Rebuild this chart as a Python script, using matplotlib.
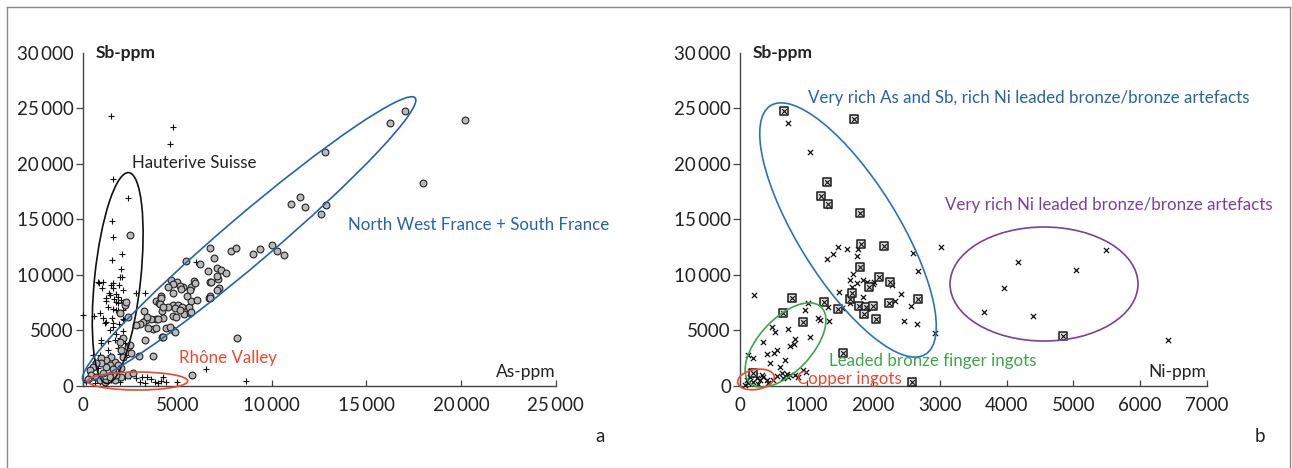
import matplotlib
matplotlib.use("Agg")
import matplotlib.pyplot as plt
from matplotlib.patches import Ellipse
from matplotlib.transforms import Affine2D
from matplotlib.lines import Line2D
from matplotlib.ticker import FuncFormatter

plt.rcParams['font.family'] = ['Lato', 'DejaVu Sans']

# ---------------- data: panel a (As vs Sb) ----------------
a_circle_x = [17030, 16240, 20210, 12800, 18000, 11480, 11760, 12880, 12580, 10990,
              6720, 7830, 8100, 9030, 9380, 10000, 10280, 10620, 6950, 5470, 6220, 6610,
              7090, 7300, 7560, 7160, 7100, 5890, 6750, 7210, 4660, 4990, 4780, 4510, 5290,
              5730, 6670, 6750, 8160, 4200, 5770, 2520,
              5920, 5130, 4760, 4130, 3880, 4050, 4760, 4510, 4200, 5040, 5270, 5390, 5600,
              5750, 6060, 5360, 5660, 4780, 4250, 3860, 3630, 3370, 3190, 3010, 2840, 3230,
              4780, 4870, 4390, 3720, 3450, 3280, 2980, 3720, 5520, 4160, 4070, 4250, 4870,
              5130, 4940, 5750, 5200, 5660, 6800, 6720, 7100, 4250, 4000, 3400, 3900, 4600,
              2400, 2490, 2580, 2130, 1960, 2050, 2130, 1690, 1520, 1250, 990, 1430, 1870,
              2050, 1600, 1250, 990, 720, 545, 370, 460, 720, 1070, 1430, 1690, 2050, 1780,
              2220, 1960, 2400, 2310, 300, 900, 1200, 2400, 2650]
a_circle_y = [24750, 23670, 23940, 21050, 18260, 17000, 16100, 16280, 15480, 16400,
              12400, 12150, 12430, 11900, 12350, 12680, 12150, 11740, 11500, 11200, 10990, 10330,
              10600, 10450, 10150, 9620, 9860, 9450, 9330, 8800, 9520, 9340, 9190, 8920, 8890,
              8860, 7920, 8070, 4330, 4390, 960, 13550,
              9230, 8980, 8350, 8110, 7660, 7450, 7270, 7120, 6720, 7240, 7120, 6670, 7120,
              7640, 7720, 6490, 6550, 6250, 6130, 6040, 5980, 5950, 5740, 5590, 5500, 6730,
              5020, 4870, 5170, 5110, 5230, 4120, 2680, 2680, 8080, 7870, 7360, 7060, 6970,
              6820, 6220, 6670, 8680, 8620, 9370, 7870, 8620, 4410, 5980, 6220, 5170, 5320,
              3510, 3670, 2920, 4270, 3960, 3220, 2560, 2160, 2610, 2320, 2470, 1860, 1860,
              1570, 1480, 1710, 2020, 2020, 1710, 1410, 960, 810, 1120, 810, 510, 810, 960,
              7270, 6550, 6220, 7570, 600, 500, 300, 950, 1100]

a_plus_x = [1520, 4780, 4600, 1590, 2380, 1570, 1600,
            2080, 1550, 2050, 2080, 846, 1070, 1520, 1900, 2130, 1750, 1430, 1250, 1660,
            1870, 2130, 1340, 1600, 1890, 2220, 2800, 3280, 20, 600, 900, 1070, 1220, 1600,
            1920, 2170, 1430, 1780, 1960, 990, 1340, 1690, 1340, 2220, 2400, 1960, 1430, 900,
            635, 810, 370, 105, 2310,
            1990, 810, 1040, 1600, 1600, 1390, 1250, 1870, 2050, 1780, 1750, 2130, 1160,
            1550, 2130, 1600, 2130, 990, 1870, 900, 545, 2220, 195, 635, 900, 1250, 1520,
            1690, 1960, 2220, 2490,
            2840, 3160, 3400, 3010, 3280, 3630, 3810, 3980, 4160, 4250, 4430, 4960, 6540,
            8620, 5980]
a_plus_y = [24320, 23330, 21800, 18600, 16900, 14880, 13440,
            11840, 11320, 10510, 9770, 9280, 9310, 9070, 9070, 8620, 8260, 8170, 7630, 7780,
            7480, 7570, 7120, 6880, 6820, 7120, 8320, 8320, 6370, 6280, 6520, 6070, 5770, 5680,
            5560, 5920, 5020, 4630, 4270, 4120, 4050, 4120, 3220, 3820, 3370, 2830, 2770, 2770,
            2160, 1570, 1120, 510, 2610,
            9820, 9370, 8770, 9220, 8770, 8320, 7870, 8020, 7720, 7570, 6820, 6820, 5620,
            6070, 5980, 5260, 4960, 3820, 3370, 2470, 2770, 2770, 360, 200, 360, 220, 510,
            810, 360, 810, 870,
            670, 810, 760, 360, 270, 580, 360, 270, 450, 810, 360, 360, 1480,
            450, 11110]

# ---------------- data: panel b (Ni vs Sb) ----------------
b_cross_x = [715, 1050, 1340, 1475, 1610, 3010, 1400, 1310, 1750, 2590, 1765,
             2675, 1700, 1650, 1750, 1850, 1900, 2010, 2275, 1675, 1490, 1850, 1650, 1525,
             1325, 2325, 2410, 2210, 2565, 2460, 2660, 2925, 1025, 975, 1175, 1340, 1200,
             1050, 2000, 1665,
             215, 485, 525, 725, 825, 750, 810, 350, 550, 510, 400, 125, 200, 450, 675, 950,
             600, 625, 700, 725, 750, 825, 550, 500, 650, 875, 990,
             100, 150, 200, 250, 300, 350, 400, 425, 125, 275, 325, 225, 75,
             5485, 4170, 5040, 3955, 3665, 4390, 6420]
b_cross_y = [23690, 21080, 16220, 12520, 12320, 12520, 11860, 11410, 11710, 11980, 12320,
             10330, 10060, 9520, 9280, 9520, 9370, 9370, 9070, 8920, 8470, 7960, 7420, 6970,
             7060, 7630, 8260, 7480, 7210, 5860, 5530, 4720, 7420, 6820, 6070, 5860, 5920,
             4410, 9140, 8170,
             8170, 5320, 4870, 5080, 4180, 3580, 3730, 3910, 3220, 2970, 2860, 2770, 2470, 2070,
             2320, 1410, 1660, 1120, 1050, 760, 960, 960, 870, 510, 670, 810, 1260,
             510, 810, 360, 670, 510, 810, 510, 220, 220, 150, 960, 960, 60,
             12230, 11110, 10450, 8830, 6670, 6250, 4090]

b_box_x = [660, 1715, 1300, 1220, 1320, 1800, 1810, 2165, 1800, 2080, 1940, 2250, 2230,
           2675, 1650, 1260, 1475, 1780, 1890, 1990, 1860, 2040, 950, 1675, 775, 650, 1540,
           2580, 4845, 195]
b_box_y = [24770, 24000, 18320, 17120, 16370, 15530, 12740, 12590, 10720, 9770, 8920, 9370,
           7420, 7810, 7810, 7570, 6910, 7180, 7060, 7180, 6430, 6010, 5770, 8320, 7930, 6520,
           2970, 360, 4480, 1150]

y_ticks = [0, 5000, 10000, 15000, 20000, 25000, 30000]
a_x_ticks = [0, 5000, 10000, 15000, 20000, 25000]
b_x_ticks = [0, 1000, 2000, 3000, 4000, 5000, 6000, 7000]

# ---------------- figure ----------------
W, H = 1292, 468
fig = plt.figure(figsize=(W / 100, H / 100), dpi=100)

ax_a = fig.add_axes([82.7 / W, (H - 385.7) / H, 472.8 / W, 333.0 / H])
ax_b = fig.add_axes([740.0 / W, (H - 385.7) / H, 466.7 / W, 333.0 / H])

BLUE = '#2563ab'
RED = '#ec4a2f'
GREEN = '#3ea64a'
PURPLE = '#7a3f9f'
TXT = '#222222'
FS = 12.2
TFS = 13.5


def fmt(v, pos):
    v = int(round(v))
    if v >= 10000:
        return f"{v // 1000}\u2009{v % 1000:03d}"
    return str(v)


def style_axes(ax, xlim, xticks, xlabel):
    ax.set_xlim(*xlim)
    ax.set_ylim(0, 30000)
    for s in ('top', 'right'):
        ax.spines[s].set_visible(False)
    for s in ('left', 'bottom'):
        ax.spines[s].set_color('#444444')
        ax.spines[s].set_linewidth(1.0)
    ax.set_xticks(xticks)
    ax.set_yticks(y_ticks)
    ax.xaxis.set_major_formatter(FuncFormatter(fmt))
    ax.yaxis.set_major_formatter(FuncFormatter(fmt))
    ax.tick_params(axis='y', direction='out', length=5, width=0.9, pad=1.5,
                   labelsize=TFS, colors='#444444', labelcolor=TXT)
    ax.tick_params(axis='x', direction='in', length=4, width=0.9, pad=8,
                   labelsize=TFS, colors='#444444', labelcolor=TXT)
    ax.patch.set_visible(False)
    # top end of the y axis: a short inward serif instead of an outward tick
    ax.set_yticks([30000], minor=True)
    ax.tick_params(axis='y', which='minor', direction='in', length=5, width=0.9,
                   colors='#444444')
    fig.canvas.draw()
    ax.yaxis.get_major_ticks()[-1].tick1line.set_visible(False)
    ax.text(0.028, 1.0, 'Sb-ppm', transform=ax.transAxes, fontsize=12.5,
            fontweight='bold', color=TXT, va='center', ha='left')
    ax.text(1.0, 0.04, xlabel, transform=ax.transAxes, fontsize=12.5, color=TXT,
            va='center', ha='right')


style_axes(ax_a, (0, 25000), a_x_ticks, 'As-ppm')
style_axes(ax_b, (0, 7000), b_x_ticks, 'Ni-ppm')

# ---------------- markers ----------------
ax_a.scatter(a_plus_x, a_plus_y, marker='+', s=17, c='#111111', linewidths=0.8,
             zorder=3, clip_on=False)
ax_a.scatter(a_circle_x, a_circle_y, marker='o', s=24, facecolor='#b9b9b9',
             edgecolor='#222222', linewidths=0.8, zorder=4, clip_on=False)

ax_b.scatter(b_cross_x, b_cross_y, marker='x', s=14, c='#111111', linewidths=0.9,
             zorder=3, clip_on=False)
ax_b.scatter(b_box_x, b_box_y, marker='s', s=28, facecolor='#dcdcdc',
             edgecolor='#1a1a1a', linewidths=1.1, zorder=4, clip_on=False)
ax_b.scatter(b_box_x, b_box_y, marker='x', s=11, c='#111111', linewidths=0.8,
             zorder=5, clip_on=False)


# ---------------- ellipses (centre in data units, size in pixels) ----------------
def add_ellipse(ax, cx, cy, w_px, h_px, angle, color, lw=1.2):
    fig.canvas.draw()
    bb = ax.get_window_extent()
    x0, x1 = ax.get_xlim()
    y0, y1 = ax.get_ylim()
    sx = (x1 - x0) / bb.width
    sy = (y1 - y0) / bb.height
    e = Ellipse((cx / sx, cy / sy), w_px, h_px, angle=angle, fill=False,
                edgecolor=color, linewidth=lw, clip_on=False, zorder=6,
                transform=Affine2D().scale(sx, sy) + ax.transData)
    ax.add_patch(e)


add_ellipse(ax_a, 1850, 9700, 212, 46, 84, '#111111')
add_ellipse(ax_a, 8800, 13200, 436, 48, 40.4, BLUE)
add_ellipse(ax_a, 2910, 420, 100, 18, 0, RED)

add_ellipse(ax_b, 1620, 14030, 293, 100, -58.1, '#2a72bf')
add_ellipse(ax_b, 4560, 9160, 188, 114, 0, PURPLE)
add_ellipse(ax_b, 683, 3670, 104, 53, 47, GREEN)
add_ellipse(ax_b, 240, 560, 37, 20, 10, RED)


# ---------------- annotations (figure pixel positions) ----------------
def ftext(x, y, s, color, ha='left'):
    fig.text(x / W, 1 - y / H, s, fontsize=FS, color=color, ha=ha, va='center')


ftext(132, 163, 'Hauterive Suisse', TXT)
ftext(348, 225, 'North West France + South France', BLUE)
ftext(179, 358, 'Rhône Valley', RED)
ftext(808, 98, 'Very rich As and Sb, rich Ni leaded bronze/bronze artefacts', BLUE)
ftext(945, 205, 'Very rich Ni leaded bronze/bronze artefacts', PURPLE)
ftext(829, 361, 'Leaded bronze finger ingots', GREEN)
ftext(797, 379, 'Copper ingots', RED)
fig.text(600 / W, 1 - 437 / H, 'a', fontsize=TFS, color=TXT, ha='center', va='center')
fig.text(1260 / W, 1 - 437 / H, 'b', fontsize=TFS, color=TXT, ha='center', va='center')

# outer frame (left, top, right)
fr = '#8a8a8a'
fig.add_artist(Line2D([7 / W, 7 / W], [0, 1 - 7 / H], color=fr, lw=1.0))
fig.add_artist(Line2D([7 / W, 1290 / W], [1 - 7 / H, 1 - 7 / H], color=fr, lw=1.0))
fig.add_artist(Line2D([1290 / W, 1290 / W], [0, 1 - 7 / H], color=fr, lw=1.0))

fig.savefig('out.png', dpi=100)
